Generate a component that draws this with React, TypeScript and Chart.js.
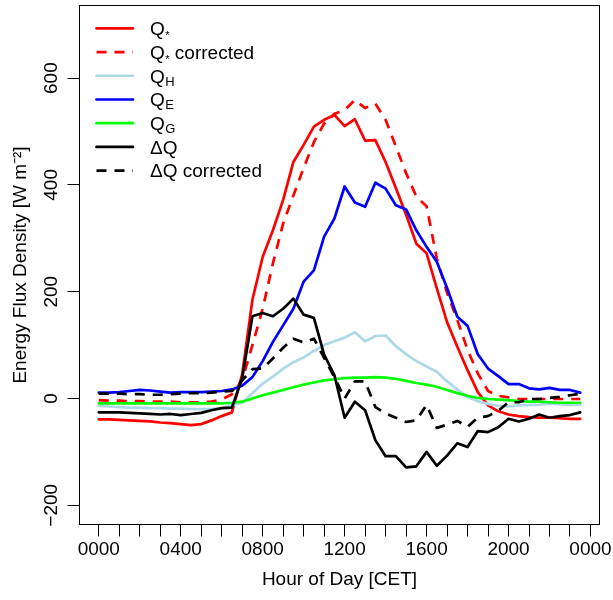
import React, { useEffect, useRef } from 'react';
import { Chart, registerables } from 'chart.js';

Chart.register(...registerables);

// ---- data (half-hourly means, hour of day in CET) ----
const hours = [
  0, 0.5, 1, 1.5, 2, 2.5, 3, 3.5, 4, 4.5, 5, 5.5, 6, 6.5,
  7, 7.5, 8, 8.5, 9, 9.5, 10, 10.5, 11, 11.5, 12, 12.5, 13, 13.5,
  14, 14.5, 15, 15.5, 16, 16.5, 17, 17.5, 18, 18.5, 19, 19.5, 20, 20.5,
  21, 21.5, 22, 22.5, 23, 23.5,
];

const qStar = [
  -39, -39, -40, -41, -42, -43, -45, -46, -48, -50, -48, -41, -33, -26,
  45, 185, 265, 315, 372, 443, 475, 509, 522, 531, 510, 523, 483, 484,
  443, 394, 344, 290, 272, 206, 143, 97, 53, 12, -13, -24, -30, -33,
  -35, -36, -36, -37, -38, -38,
];

const qStarCorrected = [
  -3, -4, -4, -5, -5, -6, -6, -6, -7, -7, -7, -6, -2, 8,
  34, 100, 168, 253, 328, 380, 432, 480, 515, 533, 540, 559, 544, 552,
  522, 472, 422, 378, 360, 262, 198, 147, 91, 47, 14, 5, 2, -1,
  -1, -1, -1, -1, -1, -1,
];

const qH = [
  -14, -15, -16, -17, -17, -18, -18, -19, -19, -20, -20, -20, -18, -13,
  -8, 10, 28, 41, 56, 68, 77, 89, 100, 107, 114, 124, 107, 117,
  118, 98, 83, 70, 60, 50, 32, 17, 3, -5, -10, -14, -15, -13,
  -12, -12, -9, -11, -12, -12,
];

const qE = [
  11, 11, 12, 14, 16, 15, 13, 11, 12, 12, 12, 13, 14, 17,
  24, 40, 70, 106, 137, 168, 219, 240, 303, 337, 397, 367, 359, 404,
  393, 362, 354, 315, 284, 256, 207, 153, 136, 83, 56, 42, 27, 27,
  19, 17, 20, 16, 16, 11,
];

const qG = [
  -9, -9, -9, -9, -9, -9, -9, -9, -9, -9, -9, -9, -9, -8,
  -6, 0, 6, 11, 16, 21, 26, 30, 34, 36, 38, 39, 39, 40,
  39, 37, 33, 29, 26, 22, 16, 10, 5, 1, -1, -2, -3, -5,
  -6, -6, -7, -8, -8, -8,
];

const deltaQ = [
  -26, -26, -26, -27, -28, -29, -30, -29, -31, -29, -27, -22, -18, -17,
  38, 154, 160, 154, 168, 187, 157, 151, 82, 44, -36, -6, -22, -78,
  -108, -108, -129, -127, -100, -126, -107, -84, -91, -61, -63, -54, -38, -43,
  -38, -30, -36, -33, -31, -26,
];

const deltaQCorrected = [
  9, 9, 9, 8, 8, 7, 7, 8, 9, 10, 10, 11, 13, 14,
  34, 55, 56, 75, 95, 112, 105, 112, 76, 40, 0, 32, 32, -16,
  -28, -36, -44, -41, -12, -55, -49, -42, -53, -36, -33, -23, -7, -7,
  -1, -1, 1, 3, 6, 9,
];

const seriesNames = ['Q*', 'Q* corrected', 'QH', 'QE', 'QG', 'ΔQ', 'ΔQ corrected'];
const legendMain = ['Q', 'Q', 'Q', 'Q', 'Q', 'ΔQ', 'ΔQ'];
const legendSub = ['*', '*', 'H', 'E', 'G', '', ''];
const legendTail = ['', ' corrected', '', '', '', '', ' corrected'];

const xTickHours = [
  0, 1, 2, 3, 4, 5, 6, 7, 8, 9, 10, 11, 12,
  13, 14, 15, 16, 17, 18, 19, 20, 21, 22, 23, 24,
];
const xLabelHours = [0, 4, 8, 12, 16, 20, 24];
const xLabels = ['0000', '0400', '0800', '1200', '1600', '2000', '0000'];
const yTicks = [-200, 0, 200, 400, 600];
const yTickLabels = ['\u2212200', '0', '200', '400', '600'];

const xTitle = 'Hour of Day [CET]';
const yTitle = 'Energy Flux Density [W m\u207B\u00B2]';

// ---- styling ----
const FONT = "'Liberation Sans', Arial, Helvetica, sans-serif";
const FS = 19;
const LW = 2.7;
const DASH = [10, 8];
const styles = [
  { color: '#FF0000', dash: [] as number[] },
  { color: '#FF0000', dash: DASH },
  { color: '#ADD8E6', dash: [] as number[] },
  { color: '#0000FF', dash: [] as number[] },
  { color: '#00FF00', dash: [] as number[] },
  { color: '#000000', dash: [] as number[] },
  { color: '#000000', dash: DASH },
];

const W = 613;
const H = 600;
const PLOT_LEFT = 79.5;
const PLOT_RIGHT = 599.5;
const PLOT_TOP = 5.5;
const PLOT_BOTTOM = 524.5;
const TICK_LEN = 12;

export default function App() {
  const ref = useRef<HTMLCanvasElement | null>(null);

  useEffect(() => {
    document.body.style.margin = '0';
    const canvas = ref.current;
    if (!canvas) return;
    const mctx = canvas.getContext('2d')!;
    mctx.font = `${FS}px ${FONT}`;
    const widest = Math.max(...yTickLabels.map((t) => mctx.measureText(t).width));
    const yLabelCenter = 51.5;
    const yTickPad = PLOT_LEFT - TICK_LEN - yLabelCenter - widest / 2;

    const seriesValues = [qStar, qStarCorrected, qH, qE, qG, deltaQ, deltaQCorrected];

    const datasets = seriesValues.map((vals, i) => ({
      label: seriesNames[i],
      data: hours.map((h, k) => ({ x: h, y: vals[k] })),
      borderColor: styles[i].color,
      backgroundColor: styles[i].color,
      borderWidth: LW,
      borderDash: styles[i].dash,
      borderCapStyle: (styles[i].dash.length ? 'butt' : 'round') as CanvasLineCap,
      borderJoinStyle: 'round' as CanvasLineJoin,
      pointRadius: 0,
      tension: 0,
      fill: false,
      order: seriesValues.length - i,
    }));

    const boxAndLegend = {
      id: 'boxAndLegend',
      afterDraw(chart: any) {
        const ctx: CanvasRenderingContext2D = chart.ctx;
        const a = chart.chartArea;
        ctx.save();
        ctx.strokeStyle = '#000';
        ctx.lineWidth = 1;
        ctx.setLineDash([]);
        ctx.strokeRect(a.left, a.top, a.right - a.left, a.bottom - a.top);

        const rowTop = 28.3;
        const rowStep = 23.73;
        chart.data.datasets.forEach((ds: any, i: number) => {
          const y = rowTop + i * rowStep;
          ctx.strokeStyle = ds.borderColor;
          ctx.lineWidth = LW;
          ctx.lineCap = ds.borderDash.length ? 'butt' : 'round';
          ctx.setLineDash(ds.borderDash);
          ctx.beginPath();
          ctx.moveTo(96.5, y);
          ctx.lineTo(133, y);
          ctx.stroke();

          ctx.setLineDash([]);
          ctx.fillStyle = '#000';
          ctx.textBaseline = 'alphabetic';
          ctx.textAlign = 'left';
          const base = y + 6.8;
          let x = 150;
          ctx.font = `${FS}px ${FONT}`;
          ctx.fillText(legendMain[i], x, base);
          x += ctx.measureText(legendMain[i]).width;
          if (legendSub[i]) {
            const star = legendSub[i] === '*';
            ctx.font = `${star ? 11 : 13}px ${FONT}`;
            const off = star ? 4 : 3;
            ctx.fillText(legendSub[i], x + 0.5, base + off);
            x += ctx.measureText(legendSub[i]).width + 0.5;
          }
          if (legendTail[i]) {
            ctx.font = `${FS}px ${FONT}`;
            ctx.fillText(legendTail[i], x, base);
          }
        });
        ctx.restore();
      },
    };

    const chart = new Chart(canvas, {
      type: 'line',
      data: { datasets: datasets as any },
      options: {
        animation: false,
        responsive: false,
        maintainAspectRatio: false,
        devicePixelRatio: 1,
        events: [],
        layout: {
          padding: { left: 0, top: PLOT_TOP, right: W - PLOT_RIGHT, bottom: 0 },
        },
        plugins: {
          legend: { display: false },
          tooltip: { enabled: false },
        },
        scales: {
          x: {
            type: 'linear',
            min: -0.94,
            max: 24.44,
            afterBuildTicks: (scale: any) => {
              scale.ticks = xTickHours.map((v) => ({ value: v }));
            },
            afterFit: (scale: any) => {
              scale.height = H - PLOT_BOTTOM;
              scale.paddingLeft = 0;
              scale.paddingRight = 0;
            },
            border: { display: false },
            grid: {
              display: true,
              drawOnChartArea: false,
              drawTicks: true,
              tickLength: TICK_LEN,
              color: '#000',
              lineWidth: 1,
            },
            ticks: {
              autoSkip: false,
              maxRotation: 0,
              minRotation: 0,
              padding: 2,
              color: '#000',
              font: { family: FONT, size: FS },
              callback: (value: any) => {
                const idx = xLabelHours.indexOf(Number(value));
                return idx >= 0 ? xLabels[idx] : '';
              },
            },
            title: {
              display: true,
              text: xTitle,
              color: '#000',
              font: { family: FONT, size: FS },
              padding: { top: 0, bottom: 9 },
            },
          },
          y: {
            type: 'linear',
            min: -236,
            max: 736,
            afterBuildTicks: (scale: any) => {
              scale.ticks = yTicks.map((v) => ({ value: v }));
            },
            afterFit: (scale: any) => {
              scale.width = PLOT_LEFT;
              scale.paddingTop = 0;
              scale.paddingBottom = 0;
            },
            border: { display: false },
            grid: {
              display: true,
              drawOnChartArea: false,
              drawTicks: true,
              tickLength: TICK_LEN,
              color: '#000',
              lineWidth: 1,
            },
            ticks: {
              autoSkip: false,
              minRotation: 90,
              maxRotation: 90,
              crossAlign: 'center',
              padding: yTickPad,
              color: '#000',
              font: { family: FONT, size: FS },
              callback: (value: any) => {
                const idx = yTicks.indexOf(Number(value));
                return idx >= 0 ? yTickLabels[idx] : '';
              },
            },
            title: {
              display: true,
              text: yTitle,
              color: '#000',
              font: { family: FONT, size: FS },
              padding: { top: 9, bottom: 0 },
            },
          },
        },
      },
      plugins: [boxAndLegend],
    });

    return () => {
      chart.destroy();
    };
  }, []);

  return (
    <div style={{ position: 'absolute', left: 0, top: 0, width: W, height: H }}>
      <canvas ref={ref} width={W} height={H} style={{ display: 'block' }} />
    </div>
  );
}
